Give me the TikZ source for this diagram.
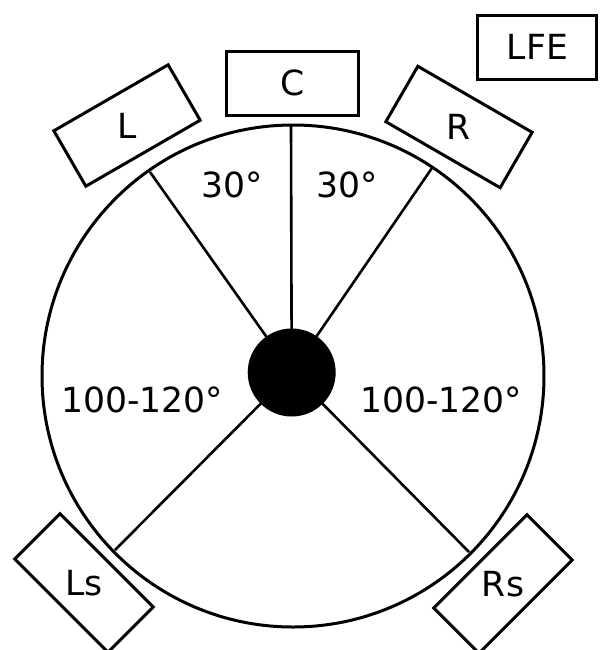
\documentclass[tikz,border=0pt]{standalone}
\usepackage{fontspec}
\setmainfont{DejaVu Sans}
\begin{document}
\begin{tikzpicture}[x=0.5pt, y=-0.5pt,
  font=\fontsize{17.3}{20}\selectfont,
  spk/.style={draw, line width=1.5pt, inner sep=0pt, minimum width=66pt, minimum height=32pt},
  spoke/.style={line width=1.3pt}]
\useasboundingbox (0,0) rectangle (606,650);
% room and listener
\node[circle, draw, line width=1.5pt, inner sep=0pt, minimum size=251pt] (room) at (293,376) {};
\coordinate (cl) at (150,172);
\coordinate (cc) at (291,125);
\coordinate (cr) at (432,168);
\coordinate (cls) at (115,550);
\coordinate (crs) at (469,552);
\draw[spoke] (291.7,372.5) coordinate (mid) -- (cc);
\draw[spoke] (mid) -- (cl);
\draw[spoke] (mid) -- (cr);
\draw[spoke] (mid) -- (cls);
\draw[spoke] (mid) -- (crs);
\node[circle, fill=black, inner sep=0pt, minimum size=44pt] (listener) at (mid) {};
% speakers
\node[spk] (c) at (293,83) {C};
\node[spk, rotate=30] (l) at (127,125.5) {};
\node[spk, rotate=-30] (r) at (459,127) {};
\node[spk, minimum width=59.5pt] (lfe) at (537.5,47) {LFE};
\node[spk, rotate=-45] (ls) at (84,583) {};
\node[spk, rotate=45] (rs) at (503,584) {};
\node (ltext) at (l) {L};
\node (rtext) at (r) {R};
\node (lstext) at (ls) {Ls};
\node (rstext) at (rs) {Rs};
% angles
\node (al) at (231.7,185) {30°};
\node (ar) at (346.7,185) {30°};
\node (bl) at (142,400) {100-120°};
\node (br) at (441,400) {100-120°};
\end{tikzpicture}
\end{document}
